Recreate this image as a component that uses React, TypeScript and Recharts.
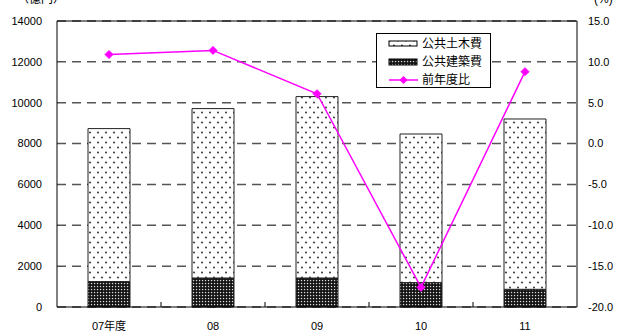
import React from "react";
import {
  ComposedChart,
  Bar,
  Line,
  XAxis,
  YAxis,
  CartesianGrid,
  ReferenceLine,
  Legend,
} from "recharts";

// 年度別の公共工事費（億円）と前年度比（%）
const years = ["07年度", "08", "09", "10", "11"];
const buildingCost = [1243, 1420, 1420, 1194, 866]; // 公共建築費
const civilCost = [7490, 8292, 8879, 7275, 8337]; // 公共土木費
const yoyRate = [10.9, 11.4, 6.1, -17.6, 8.8]; // 前年度比

const leftTicks = [0, 2000, 4000, 6000, 8000, 10000, 12000, 14000];
const rightTicks = [-20, -15, -10, -5, 0, 5, 10, 15];

const data = years.map((year, i) => ({
  year,
  building: buildingCost[i],
  civil: civilCost[i],
  rate: yoyRate[i],
}));

const FONT = '"Liberation Sans", Arial, "Noto Sans CJK JP", sans-serif';
const MAGENTA = "#FF00FF";

const Diamond = (props: any) => {
  const { cx, cy } = props;
  if (cx == null || cy == null) return null;
  const r = 4;
  return (
    <polygon
      points={`${cx},${cy - r} ${cx + r},${cy} ${cx},${cy + r} ${cx - r},${cy}`}
      fill={MAGENTA}
      stroke={MAGENTA}
    />
  );
};

const CategoryTick = (props: any) => {
  const { x, y, payload, index } = props;
  const half = payload && typeof payload.offset === "number" && payload.offset > 0 ? payload.offset : 52;
  const axisY = y - 15;
  return (
    <g>
      {index > 0 && (
        <line x1={x - half} x2={x - half} y1={axisY} y2={axisY - 5} stroke="#000" strokeWidth={1} />
      )}
      <text x={x} y={y} dy="0.71em" textAnchor="middle" fontSize={11} fill="#000" fontFamily={FONT}>
        {payload.value}
      </text>
    </g>
  );
};

const LegendBox = () => (
  <div
    style={{
      width: 115,
      height: 55,
      boxSizing: "border-box",
      border: "1px solid #000",
      background: "#fff",
      fontFamily: FONT,
      fontSize: 12,
      color: "#000",
      position: "relative",
    }}
  >
    <svg width={115} height={55} style={{ position: "absolute", left: -1, top: -1 }}>
      <rect x={13} y={8} width={28} height={5} fill="url(#civilDots)" stroke="#000" strokeWidth={1} />
      <rect x={13} y={26} width={28} height={6} fill="url(#buildingMesh)" stroke="#000" strokeWidth={1} />
      <line x1={13} x2={42} y1={47} y2={47} stroke={MAGENTA} strokeWidth={1.5} />
      <polygon points="27.5,43 31.5,47 27.5,51 23.5,47" fill={MAGENTA} />
      <text x={46} y={15} fontSize={12} fontFamily={FONT}>公共土木費</text>
      <text x={46} y={33} fontSize={12} fontFamily={FONT}>公共建築費</text>
      <text x={46} y={51} fontSize={12} fontFamily={FONT}>前年度比</text>
    </svg>
  </div>
);

export default function App() {
  return (
    <div style={{ position: "relative", width: 631, height: 331, fontFamily: FONT }}>
      <style>{`body{margin:0}`}</style>
      <svg width={0} height={0} style={{ position: "absolute" }}>
        <defs>
          <pattern id="civilDots" patternUnits="userSpaceOnUse" width={8} height={10}>
            <rect width={8} height={10} fill="#fff" />
            <circle cx={2} cy={2.5} r={1} fill="#333" />
            <circle cx={6} cy={7.5} r={1} fill="#333" />
          </pattern>
          <pattern id="buildingMesh" patternUnits="userSpaceOnUse" width={3} height={3}>
            <rect width={3} height={3} fill="#111" />
            <rect x={0.9} y={0.9} width={1.3} height={1.3} fill="#ddd" />
          </pattern>
        </defs>
      </svg>
      <ComposedChart
        width={631}
        height={331}
        data={data}
        margin={{ top: 21, right: 0, bottom: 0, left: 0 }}
        barSize={42}
      >
        <CartesianGrid
          yAxisId="left"
          vertical={false}
          stroke="#555"
          strokeWidth={1.5}
          strokeDasharray="9 6"
        />
        <XAxis
          dataKey="year"
          height={24}
          tickLine={false}
          tickSize={0}
          tickMargin={15}
          axisLine={{ stroke: "#000", strokeWidth: 1 }}
          tick={<CategoryTick />}
          interval={0}
        />
        <YAxis
          yAxisId="left"
          orientation="left"
          width={57}
          domain={[0, 14000]}
          ticks={leftTicks}
          interval={0}
          tickLine={false}
          tickSize={0}
          tickMargin={15}
          axisLine={{ stroke: "#000", strokeWidth: 1 }}
          tick={{ fontSize: 11, fill: "#000", fontFamily: FONT }}
        />
        <YAxis
          yAxisId="right"
          orientation="right"
          width={54}
          domain={[-20, 15]}
          ticks={rightTicks}
          interval={0}
          tickLine={false}
          tickSize={0}
          tickMargin={11}
          axisLine={{ stroke: "#000", strokeWidth: 1 }}
          tick={{ fontSize: 11, fill: "#000", fontFamily: FONT, textAnchor: "start" }}
          tickFormatter={(v: number) => v.toFixed(1)}
        />
        <ReferenceLine yAxisId="left" y={14000} stroke="#000" strokeWidth={1} />
        <Bar
          yAxisId="left"
          dataKey="building"
          stackId="cost"
          fill="url(#buildingMesh)"
          stroke="#222"
          strokeWidth={1}
          isAnimationActive={false}
        />
        <Bar
          yAxisId="left"
          dataKey="civil"
          stackId="cost"
          fill="url(#civilDots)"
          stroke="#222"
          strokeWidth={1}
          isAnimationActive={false}
        />
        <Line
          yAxisId="right"
          dataKey="rate"
          stroke={MAGENTA}
          strokeWidth={1.5}
          dot={<Diamond />}
          activeDot={false}
          isAnimationActive={false}
        />
        <Legend
          layout="horizontal"
          verticalAlign="middle"
          align="center"
          wrapperStyle={{ top: 33, left: 376, width: 115, height: 55 }}
          content={() => <LegendBox />}
        />
      </ComposedChart>
      <div
        style={{
          position: "absolute",
          left: 17,
          top: -8,
          fontSize: 12,
          fontFamily: FONT,
          lineHeight: "14px",
          whiteSpace: "nowrap",
        }}
      >
        （億円）
      </div>
      <div
        style={{
          position: "absolute",
          left: 594,
          top: -8,
          fontSize: 12,
          fontFamily: FONT,
          lineHeight: "14px",
          whiteSpace: "nowrap",
        }}
      >
        (%)
      </div>
    </div>
  );
}
